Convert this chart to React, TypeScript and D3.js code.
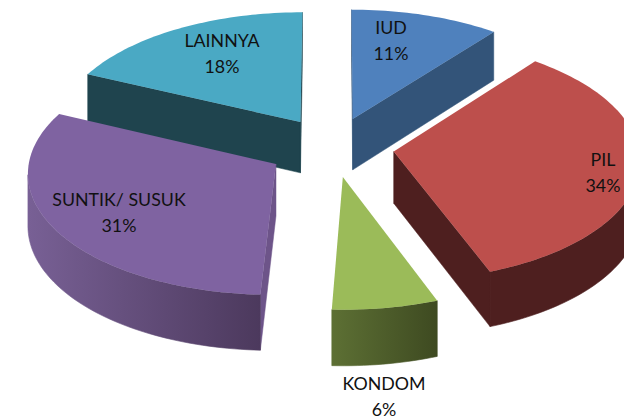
import React from "react";
import * as d3 from "d3";

const categories = ["IUD", "PIL", "KONDOM", "SUNTIK/ SUSUK", "LAINNYA"];
const shares = [10.6, 33.65, 6.45, 31.2, 18.1];
const explodes = [0.25, 0.25, 0.25, 0.27, 0.25];

const topColors = ["#4f81bd", "#bd4f4c", "#9bbb59", "#7f63a1", "#4aa9c4"];
const edgeColors = ["#335479", "#4e1f1f", "#3e4a21", "#6d5489", "#1f444e"];
const rimColors = [
  ["#335479", "#335479"],
  ["#4e1f1f", "#4e1f1f"],
  ["#5d7034", "#3e4a21"],
  ["#786095", "#4c395d"],
  ["#1f444e", "#1f444e"],
];
// label centres, one per slice
const labelAt = [
  [391, 29],
  [603, 161],
  [384, 385],
  [119, 201],
  [222, 42],
];

const W = 624;
const H = 419;
const cx = 333;
const cy = 147;
const rx = 245;
const ry = 120;
const persp = 0.0647; // front of the pie is closer
const depth = 51.5;

// ground plane -> screen
const project = (x: number, y: number, lift = 0): [number, number] => {
  const s = 1 / (1 - persp * y);
  return [cx + rx * x * s, cy + ry * y * s + lift * s];
};

const pct = d3.format(".0f");

export default function App() {
  const arcs = d3.pie<number>().sort(null)(shares);
  const line = d3.line();

  const slices = arcs.map((a, i) => {
    const mid = (a.startAngle + a.endAngle) / 2;
    const ox = explodes[i] * Math.sin(mid);
    const oy = -explodes[i] * Math.cos(mid);
    const steps = Math.max(8, Math.ceil((a.endAngle - a.startAngle) * 40));
    const angles = d3.range(steps + 1).map((k) => a.startAngle + ((a.endAngle - a.startAngle) * k) / steps);
    const rimG = angles.map((t) => [ox + Math.sin(t), oy - Math.cos(t)] as [number, number]);
    const ground: [number, number][] = [[ox, oy], ...rimG];

    const top = ground.map((p) => project(p[0], p[1]));
    const bottom = ground.map((p) => project(p[0], p[1], depth));

    // only edges running right-to-left show their wall
    const faces = (p: [number, number], q: [number, number]) => q[0] < p[0];
    const wall = (from: number, to: number) =>
      line([top[from], top[to], bottom[to], bottom[from]]) + "Z";

    const last = top.length - 1;
    const edges: string[] = [];
    if (faces(top[0], top[1])) edges.push(wall(0, 1));
    if (faces(top[last], top[0])) edges.push(wall(last, 0));

    const rimIdx = d3.range(1, last + 1).filter((j) =>
      (j < last && faces(top[j], top[j + 1])) || (j > 1 && faces(top[j - 1], top[j]))
    );
    const rim = rimIdx.length
      ? line([...rimIdx.map((j) => top[j]), ...rimIdx.slice().reverse().map((j) => bottom[j])]) + "Z"
      : null;
    const xs = rimIdx.map((j) => top[j][0]);

    return {
      i,
      edges,
      rim,
      x1: d3.min(xs) ?? 0,
      x2: d3.max(xs) ?? 1,
      top: line(top) + "Z",
    };
  });

  // painter's order, back to front
  const order = [4, 0, 1, 3, 2];

  return (
    <svg
      width={W}
      height={H}
      style={{ position: "absolute", left: 0, top: 0, background: "#fff" }}
      fontFamily="Lato, Carlito, sans-serif"
      fontSize={17.8}
    >
      <defs>
        {slices.map((s) => (
          <linearGradient key={s.i} id={`rim${s.i}`} gradientUnits="userSpaceOnUse" x1={s.x1} x2={s.x2} y1={0} y2={0}>
            <stop offset="0" stopColor={rimColors[s.i][0]} />
            <stop offset="1" stopColor={rimColors[s.i][1]} />
          </linearGradient>
        ))}
      </defs>
      {order.map((i) => {
        const s = slices[i];
        return (
          <g key={categories[i]}>
            {s.edges.map((d, j) => (
              <path key={j} d={d} fill={edgeColors[i]} stroke={edgeColors[i]} strokeWidth={0.5} />
            ))}
            {s.rim && <path d={s.rim} fill={`url(#rim${i})`} stroke={`url(#rim${i})`} strokeWidth={0.6} />}
            <path d={s.top} fill={topColors[i]} />
          </g>
        );
      })}
      {categories.map((c, i) => (
        <text key={c} x={labelAt[i][0]} y={labelAt[i][1]} textAnchor="middle" fill="#111" dominantBaseline="middle">
          <tspan x={labelAt[i][0]}>{c}</tspan>
          <tspan x={labelAt[i][0]} dy={25.5}>{pct(shares[i])}%</tspan>
        </text>
      ))}
    </svg>
  );
}
